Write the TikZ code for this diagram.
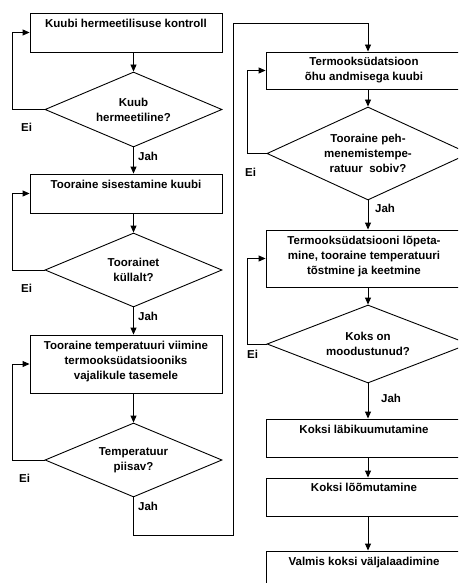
\documentclass[tikz,border=0pt]{standalone}
\usepackage{fontspec}
\setmainfont{Liberation Sans}
\usetikzlibrary{shapes.geometric,arrows.meta}
\begin{document}
\begin{tikzpicture}[x=1pt,y=-1pt,
  every node/.style={font=\fontsize{11.5}{15}\selectfont\bfseries},
  box/.style={draw, line width=0.9pt, rectangle, inner sep=0pt, minimum width=192pt},
  rbox/.style={box, minimum width=196pt},
  txt/.style={anchor=north, inner sep=0pt, align=center},
  dec/.style={draw, line width=0.9pt, diamond, inner sep=0pt, align=center},
  flow/.style={draw, line width=0.9pt, -{Triangle[length=7pt,width=6pt]}},
  lbl/.style={inner sep=0pt}
]
\useasboundingbox (0,0) rectangle (458,583);
\clip (0,0) rectangle (458,583);

% left column
\node[box, minimum height=39pt] (b1) at (126,32.5) {};
\node[txt] (t1) at ([yshift=-6.5pt]b1.north) {Kuubi hermeetilisuse kontroll};
\node[dec, minimum width=177pt, minimum height=75pt, aspect=2.36] (d1) at (133.5,109.5) {Kuub\\hermeetiline?};
\node[box, minimum height=39pt] (b2) at (126,193.5) {};
\node[txt] (t2) at ([yshift=-6.5pt]b2.north) {Tooraine sisestamine kuubi};
\node[dec, minimum width=177pt, minimum height=74pt, aspect=2.39] (d2) at (133.5,270) {Toorainet\\küllalt?};
\node[box, minimum height=58pt] (b3) at (126,364) {};
\node[txt] (t3) at ([yshift=-6.5pt]b3.north) {Tooraine temperatuuri viimine\\termooksüdatsiooniks\\vajalikule tasemele};
\node[dec, minimum width=177pt, minimum height=74pt, aspect=2.39] (d3) at (133.5,460) {Temperatuur\\piisav?};

% right column
\node[rbox, minimum height=37pt] (r1) at (364,70.5) {};
\node[txt] (s1) at ([yshift=-5.5pt]r1.north) {Termooksüdatsioon\\õhu andmisega kuubi};
\node[dec, minimum width=202pt, minimum height=93pt, aspect=2.17] (d4) at (368,153.5) {Tooraine peh-\\menemistempe-\\ratuur\ \ sobiv?};
\node[rbox, minimum height=57pt] (r2) at (364,258.5) {};
\node[txt] (s2) at ([yshift=-6.5pt]r2.north) {Termooksüdatsiooni lõpeta-\\mine, tooraine temperatuuri\\tõstmine ja keetmine};
\node[dec, minimum width=202pt, minimum height=78pt, aspect=2.59] (d5) at (368,344) {Koks on\\moodustunud?};
\node[rbox, minimum height=38pt] (r3) at (364,438) {};
\node[txt] (s3) at ([yshift=-6.5pt]r3.north) {Koksi läbikuumutamine};
\node[rbox, minimum height=38pt] (r4) at (364,497) {};
\node[txt] (s4) at ([yshift=-5pt]r4.north) {Koksi lõõmutamine};
\node[rbox, minimum height=39pt] (r5) at (364,570.5) {};
\node[txt] (s5) at ([yshift=-6.5pt]r5.north) {Valmis koksi väljalaadimine};

% helper coordinates
\coordinate (lx) at (12,0);
\coordinate (rx) at (247.5,0);
\coordinate (c1) at (233,535);
\coordinate (c2) at (233,23);

% left arrows
\draw[flow] (d1.north |- b1.south) -- (d1.north);
\draw[flow] (d1.south) -- (d1.south |- b2.north);
\draw[flow] (d2.north |- b2.south) -- (d2.north);
\draw[flow] (d2.south) -- (d2.south |- b3.north);
\draw[flow] (d3.north |- b3.south) -- (d3.north);

% left loops
\draw[flow] (d1.west) -- (d1.west -| lx) |- (b1.west);
\draw[flow] (d2.west) -- (d2.west -| lx) |- (b2.west);
\draw[flow] (d3.west) -- (d3.west -| lx) |- (b3.west);

% connector between columns
\draw[flow] (d3.south) |- (c1) -- (c2) -| (d4.north |- r1.north);

% right arrows
\draw[flow] (d4.north |- r1.south) -- (d4.north);
\draw[flow] (d4.south) -- (d4.south |- r2.north);
\draw[flow] (d5.north |- r2.south) -- (d5.north);
\draw[flow] (d5.south) -- (d5.south |- r3.north);
\draw[flow] (d5.south |- r3.south) -- (d5.south |- r4.north);
\draw[flow] (d5.south |- r4.south) -- (d5.south |- r5.north);

% right loops
\draw[flow] (d4.west) -- (d4.west -| rx) |- (r1.west);
\draw[flow] (d5.west) -- (d5.west -| rx) |- (r2.west);

% labels
\node[lbl] (e1) at ([xshift=-18pt,yshift=-18pt]d1.west) {Ei};
\node[lbl] (e2) at ([xshift=-18pt,yshift=-18pt]d2.west) {Ei};
\node[lbl] (e3) at ([xshift=-20pt,yshift=-18pt]d3.west) {Ei};
\node[lbl] (e4) at ([xshift=-16pt,yshift=-19pt]d4.west) {Ei};
\node[lbl] (e5) at ([xshift=-14pt,yshift=-10pt]d5.west) {Ei};
\node[lbl, anchor=west] (j1) at ([xshift=4.5pt,yshift=-8.5pt]d1.south) {Jah};
\node[lbl, anchor=west] (j2) at ([xshift=4.5pt,yshift=-9pt]d2.south) {Jah};
\node[lbl, anchor=west] (j3) at ([xshift=4.5pt,yshift=-9pt]d3.south) {Jah};
\node[lbl, anchor=west] (j4) at ([xshift=7pt,yshift=-8pt]d4.south) {Jah};
\node[lbl, anchor=west] (j5) at ([xshift=13pt,yshift=-15pt]d5.south) {Jah};
\end{tikzpicture}
\end{document}
